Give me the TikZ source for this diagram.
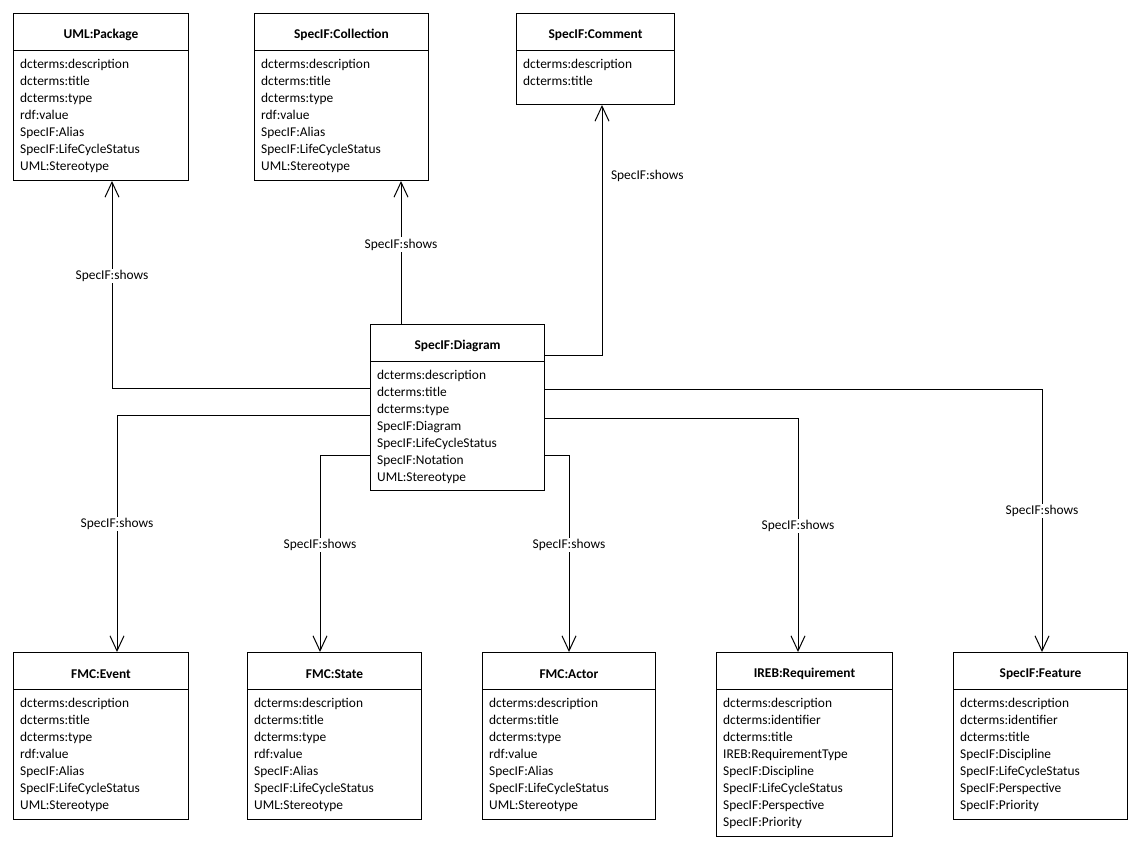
\documentclass[tikz,border=0pt]{standalone}
\usepackage{fontspec}
\setmainfont{Carlito}
\usetikzlibrary{arrows.meta,calc}
\tikzset{
  box/.style={draw=black, line width=1pt, inner sep=0pt, fill=white},
  boxtitle/.style={font=\fontsize{13.4}{16}\selectfont\bfseries, inner sep=0pt},
  attr/.style={font=\fontsize{13.4}{16}\selectfont, inner sep=0pt},
  lbl/.style={font=\fontsize{13.4}{16}\selectfont, inner sep=1.5pt},
  lblw/.style={lbl, fill=white},
  arr/.style={line width=1pt, -{Straight Barb[length=15pt,width=14pt]}},
}
\newcommand\umlbox[7]{%
  \node[box, minimum width=#4pt, minimum height=#5pt, anchor=north west] (#1) at (#2,#3) {};
  \draw[line width=1pt] ($(#1.north west)+(0,37)$) -- ($(#1.north east)+(0,37)$);
  \node[boxtitle] (#1t) at ($(#1.north)+(0,22)$) {#6};
  \foreach \a [count=\i] in {#7} {
    \node[attr, anchor=base west] (#1a\i) at ($(#1.north west)+(7,{55.5+17*(\i-1)})$) {\a};
  }
}
\begin{document}
\begin{tikzpicture}[x=1pt,y=-1pt]
\useasboundingbox[fill=white] (0,0) rectangle (1147,855);
\umlbox{pkg}{13}{13}{175}{167}{UML:Package}{dcterms:description,dcterms:title,dcterms:type,rdf:value,SpecIF:Alias,SpecIF:LifeCycleStatus,UML:Stereotype}
\umlbox{coll}{254}{13}{174}{167}{SpecIF:Collection}{dcterms:description,dcterms:title,dcterms:type,rdf:value,SpecIF:Alias,SpecIF:LifeCycleStatus,UML:Stereotype}
\umlbox{comm}{516}{13}{158}{91}{SpecIF:Comment}{dcterms:description,dcterms:title}
\umlbox{diag}{370}{324}{174}{166}{SpecIF:Diagram}{dcterms:description,dcterms:title,dcterms:type,SpecIF:Diagram,SpecIF:LifeCycleStatus,SpecIF:Notation,UML:Stereotype}
\umlbox{ev}{13}{652}{175}{167}{FMC:Event}{dcterms:description,dcterms:title,dcterms:type,rdf:value,SpecIF:Alias,SpecIF:LifeCycleStatus,UML:Stereotype}
\umlbox{st}{247}{652}{174}{167}{FMC:State}{dcterms:description,dcterms:title,dcterms:type,rdf:value,SpecIF:Alias,SpecIF:LifeCycleStatus,UML:Stereotype}
\umlbox{ac}{482}{652}{173}{167}{FMC:Actor}{dcterms:description,dcterms:title,dcterms:type,rdf:value,SpecIF:Alias,SpecIF:LifeCycleStatus,UML:Stereotype}
\umlbox{req}{716}{652}{176}{184}{IREB:Requirement}{dcterms:description,dcterms:identifier,dcterms:title,IREB:RequirementType,SpecIF:Discipline,SpecIF:LifeCycleStatus,SpecIF:Perspective,SpecIF:Priority}
\umlbox{feat}{953}{652}{174}{167}{SpecIF:Feature}{dcterms:description,dcterms:identifier,dcterms:title,SpecIF:Discipline,SpecIF:LifeCycleStatus,SpecIF:Perspective,SpecIF:Priority}

\draw[arr] ($(diag.north west)+(0,64)$) -| node[lblw, pos=0.77] (l1) {SpecIF:shows} ($(pkg.south west)+(99,0)$);
\draw[arr] ($(diag.north west)+(31,0)$) -- node[lblw, pos=0.556] (l2) {SpecIF:shows} ($(coll.south west)+(147,0)$);
\draw[arr] ($(diag.north east)+(0,31)$) -| node[lbl, pos=0.858, right=7pt] (l3) {SpecIF:shows} ($(comm.south west)+(86,0)$);
\draw[arr] ($(diag.north west)+(0,91)$) -| node[lblw, pos=0.73] (l4) {SpecIF:shows} ($(ev.north west)+(104,0)$);
\draw[arr] ($(diag.north west)+(0,131)$) -| node[lblw, pos=0.729] (l5) {SpecIF:shows} ($(st.north west)+(73,0)$);
\draw[arr] ($(diag.north east)+(0,131)$) -| node[lblw, pos=0.729] (l6) {SpecIF:shows} ($(ac.north west)+(87,0)$);
\draw[arr] ($(diag.north east)+(0,94)$) -| node[lblw, pos=0.731] (l7) {SpecIF:shows} ($(req.north west)+(82,0)$);
\draw[arr] ($(diag.north east)+(0,65)$) -| node[lblw, pos=0.732] (l8) {SpecIF:shows} ($(feat.north west)+(89,0)$);
\end{tikzpicture}
\end{document}
